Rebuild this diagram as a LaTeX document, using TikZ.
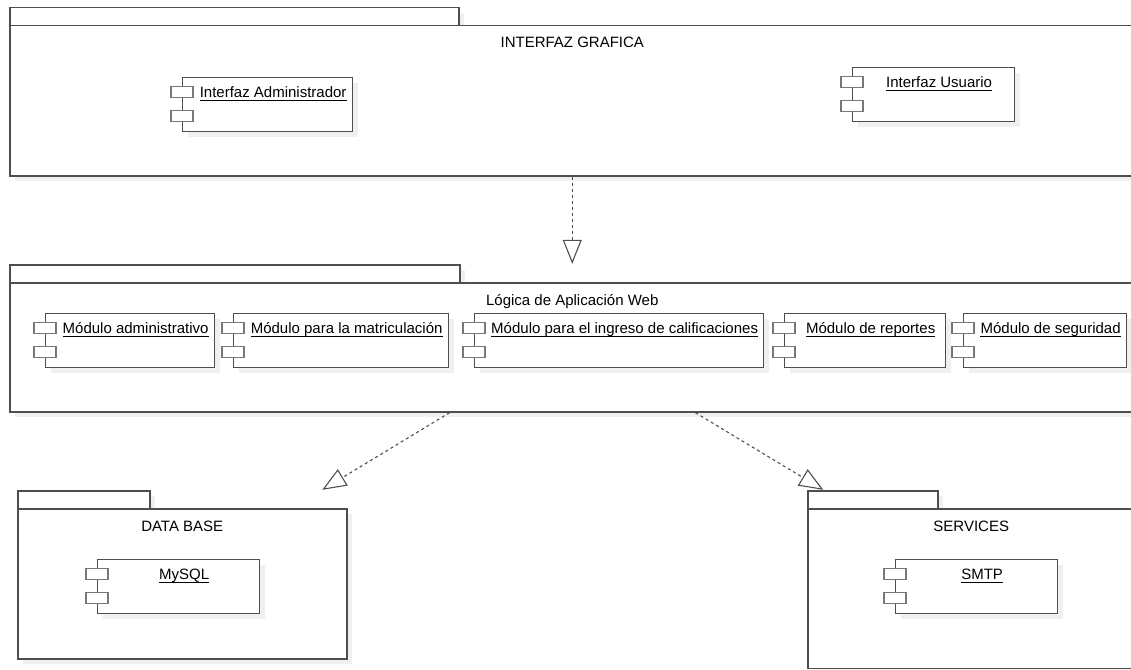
\documentclass[tikz,border=0pt]{standalone}
\usepackage{fontspec}
\setmainfont{Liberation Sans}
\usetikzlibrary{arrows.meta,shadows,fit}

\definecolor{linec}{RGB}{78,78,78}
\definecolor{lugc}{RGB}{120,120,120}
\definecolor{shadec}{RGB}{240,240,240}

% package: name, left, top, tab width, body width, body height, title
\newcommand{\umlpkg}[7]{%
  \node[pkgtab, minimum width=#4pt] (#1-tab) at (#2,#3) {};
  \node[pkgbody, minimum width=#5pt, minimum height=#6pt] (#1-body) at (#2,{#3+18}) {};
  \node[ptitle] (#1-title) at ([yshift=-23pt]#1-body.north) {#7};
  \node[fit=(#1-tab)(#1-body), inner sep=0pt] (#1) {};
}
% component: name, left, top, width, text
\newcommand{\umlcomp}[5]{%
  \node[comp, minimum width=#4pt] (#1) at (#2,#3) {};
  \node[lug] (#1-l1) at ([yshift=-15pt]#1.north west) {};
  \node[lug] (#1-l2) at ([yshift=-39pt]#1.north west) {};
  \node[ctext] (#1-t) at ([xshift=5.5pt,yshift=-20.5pt]#1.north) {#5};
  \draw[uline] ([yshift=-2.6pt]#1-t.base west) -- ([yshift=-2.6pt]#1-t.base east);
}

\begin{document}
\begin{tikzpicture}[x=1pt, y=-1pt,
    font=\fontsize{15}{18}\selectfont,
    shade/.style={drop shadow={shadow xshift=5pt, shadow yshift=-5pt, fill=shadec, opacity=1}},
    pkgtab/.style={draw=linec, fill=white, line width=1.5pt, anchor=north west, inner sep=0pt, minimum height=18pt, shade},
    pkgbody/.style={draw=linec, fill=white, line width=1.5pt, anchor=north west, inner sep=0pt, shade},
    ptitle/.style={anchor=base, inner sep=0pt, text=black},
    comp/.style={draw=linec, fill=white, line width=1.3pt, anchor=north west, inner sep=0pt, minimum height=54pt, shade},
    lug/.style={draw=lugc, fill=white, line width=1.2pt, inner sep=0pt, minimum width=22pt, minimum height=11.5pt},
    ctext/.style={anchor=base, inner sep=0pt, text=black},
    uline/.style={draw=black, line width=1pt},
    dep/.style={draw=linec, line width=1.1pt, dash pattern=on 3pt off 3pt,
                -{Triangle[open, length=24pt, width=19pt]}}]

  \path[use as bounding box, clip] (0,0) rectangle (1131,669);

  % packages
  \umlpkg{gui}{9}{7}{449}{1125}{150}{INTERFAZ GRAFICA}
  \umlpkg{logic}{9}{264}{450}{1125}{129}{Lógica de Aplicación Web}
  \umlpkg{db}{17}{490}{132}{329}{150}{DATA BASE}
  \umlpkg{srv}{807}{490}{130}{327}{159.5}{SERVICES}

  % components
  \umlcomp{adm}{182}{77}{170}{Interfaz Administrador}
  \umlcomp{usr}{852}{67}{162}{Interfaz Usuario}

  \umlcomp{m1}{45}{313}{169}{Módulo administrativo}
  \umlcomp{m2}{233}{313}{215}{Módulo para la matriculación}
  \umlcomp{m3}{474}{313}{289}{Módulo para el ingreso de calificaciones}
  \umlcomp{m4}{784}{313}{161}{Módulo de reportes}
  \umlcomp{m5}{963}{313}{163}{Módulo de seguridad}

  \umlcomp{sql}{97}{559}{162}{MySQL}
  \umlcomp{smtp}{895}{559}{162}{SMTP}

  % dependencies
  \draw[dep] (gui) -- (logic);
  \draw[dep] (logic) -- (db);
  \draw[dep] (logic) -- (srv);

\end{tikzpicture}
\end{document}
